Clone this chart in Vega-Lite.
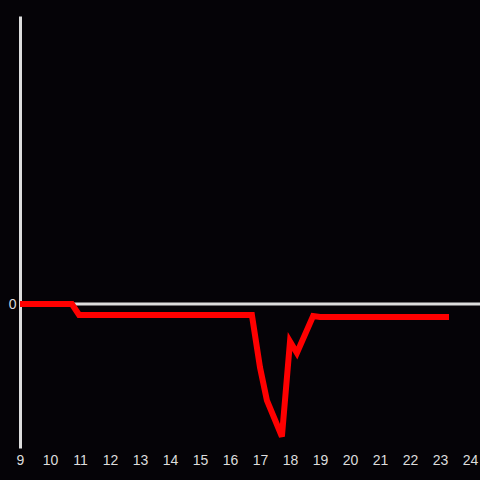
{
  "$schema": "https://vega.github.io/schema/vega-lite/v6.json",
  "autosize": "none",
  "width": 460,
  "height": 432,
  "padding": {"left": 20, "top": 16, "right": 0, "bottom": 32},
  "background": "#050307",
  "config": {"view": {"stroke": null}},
  "data": {"values": [
    {"t": 9.0, "v": 0},
    {"t": 10.73, "v": 0},
    {"t": 10.97, "v": -0.076},
    {"t": 16.73, "v": -0.076},
    {"t": 17.0, "v": -0.44},
    {"t": 17.23, "v": -0.67},
    {"t": 17.73, "v": -0.92},
    {"t": 18.0, "v": -0.26},
    {"t": 18.23, "v": -0.34},
    {"t": 18.77, "v": -0.083},
    {"t": 19.0, "v": -0.09},
    {"t": 23.3, "v": -0.09}
  ]},
  "layer": [
    {
      "data": {"values": [{"z": 0}]},
      "mark": {"type": "rule", "color": "#dddddd", "strokeWidth": 3},
      "encoding": {"y": {"field": "z", "type": "quantitative", "scale": {"domain": [-1, 2], "nice": false},
          "axis": {"values": [0], "title": null, "domain": true, "domainColor": "#dddddd", "domainWidth": 3, "ticks": false, "grid": false, "labelColor": "#dddddd", "labelFontSize": 14, "labelFont": "Liberation Sans", "labelPadding": 4}}}
    },
    {
      "mark": {"type": "line", "color": "#ff0000", "strokeWidth": 6, "strokeJoin": "miter", "strokeCap": "butt"},
      "encoding": {
        "x": {"field": "t", "type": "quantitative", "scale": {"domain": [9, 24.333], "nice": false, "zero": false},
          "axis": {"values": [9,10,11,12,13,14,15,16,17,18,19,20,21,22,23,24], "title": null, "domain": false, "ticks": false, "grid": false, "labelColor": "#dddddd", "labelFontSize": 14, "labelFont": "Liberation Sans", "labelPadding": 5, "labelFlush": false, "labelOverlap": false}},
        "y": {"field": "v", "type": "quantitative", "scale": {"domain": [-1, 2], "nice": false},
          "axis": {"values": [0], "title": null, "domain": true, "domainColor": "#dddddd", "domainWidth": 3, "ticks": false, "grid": false, "labelColor": "#dddddd", "labelFontSize": 14, "labelFont": "Liberation Sans", "labelPadding": 4}}
      }
    }
  ]
}
